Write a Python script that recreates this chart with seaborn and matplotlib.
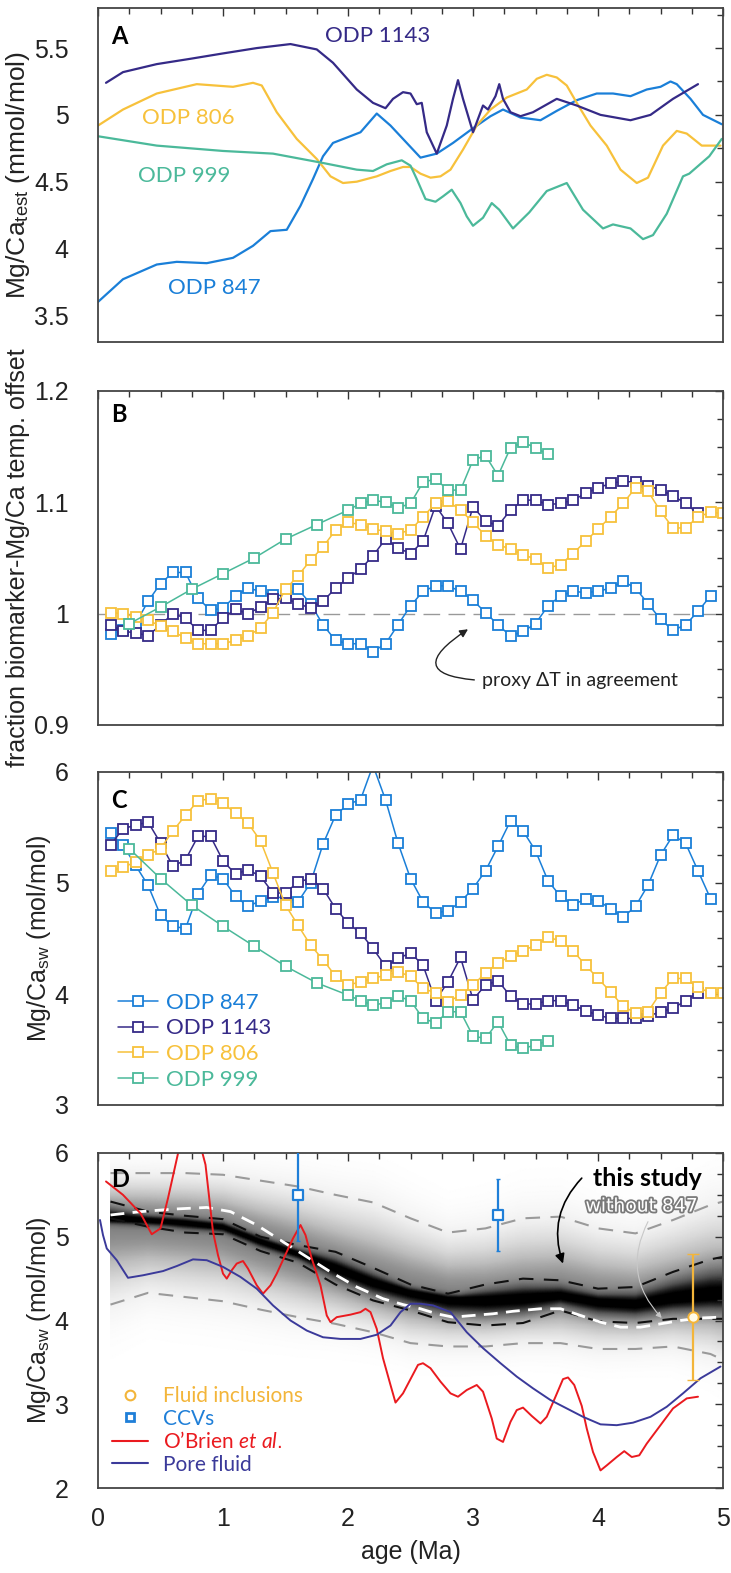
import numpy as np
import pandas as pd
import matplotlib
matplotlib.use("Agg")
import matplotlib.pyplot as plt
import seaborn as sns
from matplotlib.lines import Line2D
from matplotlib.ticker import MultipleLocator, FuncFormatter
import matplotlib.patheffects as pe

sns.set_theme(style="white")
plt.rcParams['font.family'] = ['Liberation Sans', 'DejaVu Sans']
plt.rcParams['mathtext.fontset'] = 'custom'
plt.rcParams['mathtext.rm'] = 'Liberation Sans'
plt.rcParams['mathtext.it'] = 'Lato:italic'

# ---------------- colours ----------------
C847, C1143, C806, C999 = '#1a7fd8', '#352a87', '#f7c13b', '#4bb99a'
CRED, CPORE, CCCV, CFI = '#ea1a1f', '#3b3a9a', '#1f7fd8', '#f3b53a'

# ---------------- Panel A: Mg/Ca test ----------------
a1143_age = [0.064, 0.2, 0.47, 0.74, 1.0, 1.27, 1.54, 1.75, 1.88, 2.07, 2.2, 2.3, 2.36, 2.44, 2.5, 2.55,
             2.59, 2.63, 2.71, 2.79, 2.84, 2.88, 2.92, 3.0, 3.08, 3.12, 3.18, 3.21, 3.24, 3.3, 3.38, 3.48,
             3.67, 3.83, 4.02, 4.26, 4.42, 4.6, 4.8]
a1143_val = [5.24, 5.32, 5.38, 5.42, 5.46, 5.5, 5.53, 5.49, 5.39, 5.19, 5.09, 5.05, 5.12, 5.17, 5.16, 5.08,
             5.09, 4.87, 4.71, 4.92, 5.12, 5.26, 5.12, 4.87, 5.07, 5.04, 5.14, 5.23, 5.12, 5.02, 4.99, 5.02,
             5.12, 5.07, 5.0, 4.96, 5.0, 5.12, 5.23]
a806_age = [0.0, 0.2, 0.47, 0.79, 1.08, 1.24, 1.31, 1.43, 1.59, 1.75, 1.86, 1.96, 2.07, 2.23, 2.34, 2.44,
            2.5, 2.58, 2.66, 2.74, 2.82, 2.92, 3.03, 3.14, 3.27, 3.43, 3.51, 3.59, 3.67, 3.75, 3.83, 3.94,
            4.07, 4.18, 4.31, 4.4, 4.52, 4.63, 4.71, 4.83, 4.98]
a806_val = [4.92, 5.04, 5.16, 5.23, 5.21, 5.24, 5.22, 5.02, 4.82, 4.67, 4.54, 4.49, 4.5, 4.54, 4.58, 4.61,
            4.61, 4.56, 4.53, 4.54, 4.59, 4.74, 4.92, 5.04, 5.13, 5.19, 5.27, 5.3, 5.28, 5.22, 5.09, 4.92,
            4.77, 4.59, 4.49, 4.53, 4.77, 4.88, 4.86, 4.77, 4.77]
a999_age = [0.0, 0.47, 1.0, 1.4, 1.8, 2.07, 2.2, 2.31, 2.43, 2.5, 2.55, 2.62, 2.7, 2.76, 2.83, 2.9, 2.95,
            3.0, 3.08, 3.15, 3.21, 3.32, 3.45, 3.59, 3.75, 3.88, 4.04, 4.12, 4.26, 4.36, 4.44, 4.55, 4.68,
            4.73, 4.89, 4.99]
a999_val = [4.84, 4.77, 4.73, 4.71, 4.64, 4.59, 4.58, 4.63, 4.66, 4.62, 4.52, 4.37, 4.35, 4.39, 4.44, 4.34,
            4.24, 4.17, 4.23, 4.34, 4.29, 4.15, 4.27, 4.43, 4.49, 4.29, 4.15, 4.18, 4.15, 4.07, 4.1, 4.26,
            4.54, 4.56, 4.69, 4.82]
a847_age = [0.0, 0.2, 0.47, 0.63, 0.87, 1.08, 1.24, 1.38, 1.51, 1.62, 1.72, 1.8, 1.88, 1.99, 2.1, 2.23,
            2.34, 2.44, 2.5, 2.58, 2.71, 2.84, 3.0, 3.14, 3.24, 3.38, 3.54, 3.67, 3.83, 3.99, 4.12, 4.26,
            4.39, 4.5, 4.58, 4.63, 4.74, 4.84, 4.99]
a847_val = [3.6, 3.77, 3.88, 3.9, 3.89, 3.93, 4.02, 4.13, 4.14, 4.32, 4.52, 4.69, 4.79, 4.83, 4.87, 5.01,
            4.92, 4.82, 4.76, 4.68, 4.71, 4.79, 4.9, 4.99, 5.04, 4.98, 4.96, 5.03, 5.11, 5.16, 5.16, 5.14,
            5.19, 5.21, 5.25, 5.23, 5.12, 5.0, 4.93]

# ---------------- Panels B and C: regular 0.1 Ma sampling ----------------
age_49 = np.round(np.arange(1, 50) * 0.1, 1)   # 0.1 ... 4.9
age_48 = np.round(np.arange(1, 49) * 0.1, 1)   # 0.1 ... 4.8
age_50 = np.round(np.arange(1, 51) * 0.1, 1)   # 0.1 ... 5.0
age_999 = [0.25, 0.5, 0.75, 1.0, 1.25, 1.5, 1.75, 2.0, 2.1, 2.2, 2.3, 2.4, 2.5, 2.6, 2.7, 2.8, 2.9, 3.0,
           3.1, 3.2, 3.3, 3.4, 3.5, 3.6]

b847 = [0.982, 0.985, 0.991, 1.011, 1.027, 1.037, 1.037, 1.014, 1.003, 1.005,
        1.016, 1.023, 1.020, 1.017, 1.016, 1.022, 1.009, 0.990, 0.976, 0.973,
        0.973, 0.966, 0.973, 0.990, 1.007, 1.020, 1.025, 1.025, 1.020, 1.012,
        1.001, 0.990, 0.980, 0.984, 0.991, 1.007, 1.016, 1.020, 1.019, 1.020,
        1.023, 1.029, 1.023, 1.009, 0.995, 0.985, 0.990, 1.002, 1.016]
b1143 = [0.990, 0.984, 0.983, 0.980, 0.990, 1.000, 0.996, 0.985, 0.985, 0.996,
         1.004, 1.000, 1.006, 1.013, 1.014, 1.009, 1.005, 1.011, 1.023, 1.032,
         1.040, 1.052, 1.067, 1.059, 1.054, 1.065, 1.097, 1.081, 1.058, 1.096,
         1.083, 1.079, 1.093, 1.102, 1.102, 1.098, 1.099, 1.102, 1.108, 1.113,
         1.117, 1.119, 1.118, 1.115, 1.111, 1.106, 1.099, 1.090]
b806 = [1.001, 1.000, 0.997, 0.994, 0.989, 0.984, 0.978, 0.973, 0.973, 0.973,
        0.976, 0.980, 0.987, 1.001, 1.022, 1.034, 1.048, 1.060, 1.075, 1.082,
        1.080, 1.076, 1.074, 1.072, 1.075, 1.087, 1.099, 1.101, 1.093, 1.082,
        1.070, 1.062, 1.058, 1.053, 1.049, 1.041, 1.044, 1.054, 1.065, 1.076,
        1.087, 1.099, 1.113, 1.110, 1.092, 1.077, 1.077, 1.087, 1.091, 1.090]
b999 = [0.991, 1.006, 1.022, 1.036, 1.050, 1.067, 1.080, 1.093, 1.099, 1.102, 1.100, 1.095,
        1.099, 1.118, 1.121, 1.111, 1.111, 1.138, 1.142, 1.124, 1.149, 1.154, 1.149, 1.143]

c847 = [5.45, 5.34, 5.16, 4.98, 4.71, 4.61, 4.59, 4.90, 5.07, 5.04,
        4.88, 4.79, 4.84, 4.87, 4.87, 4.83, 5.00, 5.35, 5.61, 5.71,
        5.75, 6.06, 5.75, 5.36, 5.04, 4.83, 4.73, 4.75, 4.83, 4.95,
        5.11, 5.33, 5.56, 5.47, 5.29, 5.02, 4.88, 4.80, 4.86, 4.84,
        4.77, 4.69, 4.79, 4.98, 5.25, 5.43, 5.36, 5.11, 4.86]
c1143 = [5.34, 5.49, 5.52, 5.55, 5.36, 5.15, 5.21, 5.42, 5.42, 5.20,
         5.08, 5.12, 5.06, 4.91, 4.91, 5.01, 5.04, 4.95, 4.77, 4.64,
         4.55, 4.41, 4.25, 4.32, 4.37, 4.26, 3.94, 4.11, 4.33, 3.95,
         4.08, 4.12, 3.98, 3.91, 3.91, 3.94, 3.94, 3.90, 3.85, 3.81,
         3.78, 3.78, 3.78, 3.80, 3.84, 3.87, 3.94, 4.01]
c806 = [5.11, 5.14, 5.19, 5.25, 5.31, 5.47, 5.61, 5.74, 5.76, 5.72,
        5.63, 5.54, 5.38, 5.09, 4.80, 4.62, 4.44, 4.31, 4.16, 4.08,
        4.11, 4.14, 4.17, 4.20, 4.16, 4.05, 4.01, 3.93, 3.99, 4.08,
        4.19, 4.28, 4.34, 4.39, 4.44, 4.51, 4.48, 4.39, 4.26, 4.14,
        4.02, 3.89, 3.83, 3.84, 4.01, 4.14, 4.14, 4.06, 4.01, 4.01]
c999 = [5.31, 5.04, 4.80, 4.61, 4.43, 4.25, 4.10, 3.99, 3.94, 3.90, 3.92, 3.98,
        3.94, 3.78, 3.74, 3.84, 3.84, 3.62, 3.60, 3.75, 3.54, 3.51, 3.54, 3.58]

# ---------------- Panel D ----------------
obr_age = [0.064, 0.2, 0.34, 0.43, 0.5, 0.56, 0.62, 0.73, 0.86, 0.92, 0.96, 1.0, 1.03, 1.07, 1.11, 1.16,
           1.2, 1.27, 1.32, 1.38, 1.43, 1.51, 1.56, 1.62, 1.66, 1.71, 1.78, 1.83, 1.86, 1.91, 2.02, 2.1,
           2.14, 2.18, 2.23, 2.28, 2.34, 2.38, 2.44, 2.5, 2.56, 2.6, 2.66, 2.74, 2.82, 2.88, 2.95, 3.03,
           3.08, 3.15, 3.19, 3.24, 3.3, 3.35, 3.4, 3.47, 3.54, 3.59, 3.66, 3.72, 3.76, 3.81, 3.87, 3.91,
           3.96, 4.02, 4.07, 4.15, 4.21, 4.27, 4.33, 4.39, 4.5, 4.6, 4.71, 4.8]
obr_val = [5.66, 5.5, 5.28, 5.03, 5.1, 5.46, 5.86, 6.6, 5.86, 5.06, 4.78, 4.56, 4.5, 4.6, 4.68, 4.71,
           4.62, 4.42, 4.32, 4.42, 4.56, 4.82, 4.98, 5.14, 5.02, 4.74, 4.42, 4.06, 3.98, 4.04, 4.07, 4.1,
           4.14, 4.1, 3.9, 3.55, 3.23, 3.02, 3.13, 3.3, 3.47, 3.49, 3.43, 3.27, 3.13, 3.09, 3.17, 3.23,
           3.15, 2.83, 2.59, 2.55, 2.79, 2.93, 2.96, 2.86, 2.77, 2.85, 3.09, 3.3, 3.32, 3.23, 2.98, 2.71,
           2.43, 2.21, 2.27, 2.37, 2.44, 2.37, 2.39, 2.53, 2.75, 2.95, 3.07, 3.09]
pf_age = [0.016, 0.04, 0.07, 0.15, 0.24, 0.36, 0.52, 0.63, 0.76, 0.87, 1.0, 1.14, 1.27, 1.4, 1.54, 1.67,
          1.8, 1.94, 2.1, 2.23, 2.34, 2.42, 2.5, 2.58, 2.68, 2.82, 2.95, 3.08, 3.22, 3.35, 3.48, 3.62,
          3.75, 3.88, 4.02, 4.15, 4.28, 4.42, 4.55, 4.68, 4.82, 4.98]
pf_val = [5.2, 5.02, 4.86, 4.72, 4.51, 4.54, 4.59, 4.65, 4.73, 4.72, 4.64, 4.52, 4.38, 4.18, 4.0, 3.88,
          3.8, 3.78, 3.78, 3.83, 3.94, 4.1, 4.2, 4.2, 4.18, 4.1, 3.86, 3.67, 3.49, 3.33, 3.19, 3.05,
          2.95, 2.85, 2.76, 2.75, 2.78, 2.85, 2.97, 3.13, 3.31, 3.45]
wo_age = [0.1, 0.34, 0.6, 0.87, 1.06, 1.27, 1.48, 1.67, 1.86, 2.07, 2.28, 2.44, 2.58, 2.71, 2.84, 3.0,
          3.16, 3.32, 3.54, 3.7, 3.86, 4.02, 4.18, 4.34, 4.5, 4.66, 4.82, 4.98]
wo_val = [5.26, 5.3, 5.33, 5.35, 5.3, 5.14, 4.94, 4.76, 4.58, 4.4, 4.26, 4.19, 4.14, 4.08, 4.04, 4.06,
          4.08, 4.11, 4.14, 4.14, 4.06, 3.98, 3.92, 3.92, 3.96, 4.0, 4.03, 4.04]
dens_age = [0.1, 0.4, 0.7, 1.0, 1.3, 1.6, 1.9, 2.2, 2.5, 2.8, 3.1, 3.4, 3.7, 4.0, 4.3, 4.6, 4.9, 5.0]
ts_center = [5.22, 5.2, 5.17, 5.12, 4.95, 4.8, 4.63, 4.46, 4.34, 4.26, 4.25, 4.27, 4.3, 4.23, 4.2, 4.27, 4.31, 4.31]
ts_ub = [5.42, 5.3, 5.25, 5.21, 5.0, 4.9, 4.82, 4.63, 4.43, 4.32, 4.43, 4.5, 4.48, 4.38, 4.4, 4.58, 4.73, 4.76]
ts_lb = [5.22, 5.12, 5.05, 5.03, 4.83, 4.69, 4.43, 4.24, 4.12, 3.98, 3.94, 3.97, 4.12, 3.99, 3.97, 4.02, 4.02, 4.02]
ts_ug = [5.76, 5.76, 5.76, 5.74, 5.67, 5.6, 5.5, 5.41, 5.22, 5.05, 5.1, 5.22, 5.24, 5.1, 5.04, 5.2, 5.38, 5.42]
ts_lg = [4.19, 4.33, 4.28, 4.23, 4.13, 4.04, 3.96, 3.86, 3.73, 3.69, 3.69, 3.73, 3.73, 3.66, 3.66, 3.69, 3.6, 3.53]
ccv_age, ccv_val, ccv_err = [1.6, 3.2], [5.5, 5.26], [0.55, 0.43]
fi_age, fi_val, fi_err = [4.76], [4.04], [0.75]

# ---------------- figure layout ----------------
fig = plt.figure(figsize=(7.31, 15.73), dpi=100)
L, W = 98 / 731, 625 / 731
def ax_at(top_px, bot_px):
    return fig.add_axes([L, 1 - bot_px / 1573, W, (bot_px - top_px) / 1573])
axA = ax_at(8, 342)
axB = ax_at(391, 725)
axC = ax_at(772, 1105)
axD = ax_at(1153, 1488)

ANN = 'Lato'
fmt = FuncFormatter(lambda v, p: f"{v:g}")

# ---- A ----
for ag, vv, col in [(a847_age, a847_val, C847), (a806_age, a806_val, C806),
                    (a999_age, a999_val, C999), (a1143_age, a1143_val, C1143)]:
    sns.lineplot(x=ag, y=vv, ax=axA, color=col, lw=1.6)
for txt, x, y, col in [('ODP 1143', 2.236, 5.545, C1143), ('ODP 806', 0.724, 4.931, C806),
                       ('ODP 999', 0.692, 4.496, C999), ('ODP 847', 0.932, 3.657, C847)]:
    axA.text(x, y, txt, color=col, fontsize=16, family=ANN, ha='center', va='baseline')

# ---- B ----
mk = dict(marker='s', markersize=7, markerfacecolor='white', markeredgewidth=1.3, lw=1.1)
axB.axhline(1.0, color='#999999', lw=1.0, dashes=(12, 6), zorder=1)
for ag, vv, col in [(age_49, b847, C847), (age_48, b1143, C1143), (age_50, b806, C806), (age_999, b999, C999)]:
    sns.lineplot(x=ag, y=vv, ax=axB, color=col, markeredgecolor=col, **mk)
axB.annotate('proxy ΔT in agreement', xy=(2.96, 0.986), xytext=(3.07, 0.940),
             fontsize=14, family=ANN, color='#222222', ha='left', va='center',
             arrowprops=dict(arrowstyle='-|>', color='#222222', lw=1.0, mutation_scale=12, relpos=(0, 0.5),
                             connectionstyle='arc3,rad=-1.5', shrinkA=3, shrinkB=0))

# ---- C ----
for ag, vv, col in [(age_49, c847, C847), (age_48, c1143, C1143), (age_50, c806, C806), (age_999, c999, C999)]:
    sns.lineplot(x=ag, y=vv, ax=axC, color=col, markeredgecolor=col, **mk)
hC = [Line2D([], [], color=c, markeredgecolor=c, **mk) for c in (C847, C1143, C806, C999)]
legC = axC.legend(hC, ['ODP 847', 'ODP 1143', 'ODP 806', 'ODP 999'], loc='lower left',
                  bbox_to_anchor=(0.032, 0.045), frameon=False, handlelength=1.8, handletextpad=0.35,
                  labelspacing=0.26, borderaxespad=0, borderpad=0, prop={'family': ANN, 'size': 16})
for t, c in zip(legC.get_texts(), (C847, C1143, C806, C999)):
    t.set_color(c)

# ---- D ----
xg = np.linspace(dens_age[0], dens_age[-1], 246)
yg = np.linspace(2, 6, 400)
cc = np.interp(xg, dens_age, ts_center)
ub = np.interp(xg, dens_age, ts_ub); lb = np.interp(xg, dens_age, ts_lb)
ug = np.interp(xg, dens_age, ts_ug); lg = np.interp(xg, dens_age, ts_lg)
X, Y = np.meshgrid(xg, yg)
dy = Y - cc
s_in = np.where(dy > 0, np.maximum(ub - cc, 0.1), np.maximum(cc - lb, 0.1))
s_out = np.where(dy > 0, ug - cc, cc - lg)
Z = 0.45 * np.exp(-0.5 * (dy / (0.42 * s_in)) ** 2) + 0.55 * np.exp(-0.5 * (dy / (0.55 * s_out)) ** 2)
axD.pcolormesh(xg, yg, Z, cmap='Greys', vmin=0, vmax=0.95, shading='gouraud', zorder=0, rasterized=True)

def dashed(ax, x, y, col, lw, dsh):
    sns.lineplot(x=x, y=y, ax=ax, color=col, lw=lw)
    ax.lines[-1].set_dashes(dsh)

dashed(axD, dens_age, ts_ug, '#9a9a9a', 1.5, (7, 5))
dashed(axD, dens_age, ts_lg, '#9a9a9a', 1.5, (7, 5))
dashed(axD, dens_age, ts_ub, '#111111', 1.5, (7, 5))
dashed(axD, dens_age, ts_lb, '#111111', 1.5, (7, 5))
dashed(axD, wo_age, wo_val, 'white', 2.0, (5, 3))
sns.lineplot(x=obr_age, y=obr_val, ax=axD, color=CRED, lw=1.4)
sns.lineplot(x=pf_age, y=pf_val, ax=axD, color=CPORE, lw=1.4)
axD.errorbar(ccv_age, ccv_val, yerr=ccv_err, fmt='none', ecolor=CCCV, elinewidth=1.6, capsize=1.5, zorder=5)
sns.scatterplot(x=ccv_age, y=ccv_val, ax=axD, marker='s', s=45, facecolor='white', edgecolor=CCCV,
                linewidth=1.6, zorder=6)
axD.errorbar(fi_age, fi_val, yerr=fi_err, fmt='none', ecolor=CFI, elinewidth=1.6, capsize=4, zorder=5)
sns.scatterplot(x=fi_age, y=fi_val, ax=axD, marker='o', s=55, facecolor='#fffbe8', edgecolor=CFI,
                linewidth=1.4, zorder=6)

axD.text(3.96, 5.60, 'this study', fontsize=18, family=ANN, fontweight='bold', color='black',
         ha='left', va='baseline', zorder=7)
axD.text(3.90, 5.30, 'without 847', fontsize=13.5, family='DejaVu Sans', color='white', ha='left',
         va='baseline', zorder=7, path_effects=[pe.withStroke(linewidth=2.6, foreground='#7a7a7a')])
axD.annotate('', xy=(3.72, 4.68), xytext=(3.87, 5.70),
             arrowprops=dict(arrowstyle='-|>', color='black', lw=1.2, mutation_scale=14,
                             connectionstyle='arc3,rad=0.3', shrinkA=0, shrinkB=0), zorder=7)
axD.annotate('', xy=(4.51, 4.03), xytext=(4.40, 5.18),
             arrowprops=dict(arrowstyle='-|>', color='#c8c8c8', lw=0.8, mutation_scale=8,
                             connectionstyle='arc3,rad=0.35', shrinkA=0, shrinkB=0), zorder=7)

hD = [Line2D([], [], ls='none', marker='o', markerfacecolor='none', markeredgecolor=CFI, ms=7, mew=1.5),
      Line2D([], [], ls='none', marker='s', markerfacecolor='none', markeredgecolor=CCCV, ms=6, mew=2),
      Line2D([], [], color=CRED, lw=1.5), Line2D([], [], color=CPORE, lw=1.5)]
legD = axD.legend(hD, ['Fluid inclusions', 'CCVs', 'O’Brien $\\it{et\\ al.}$', 'Pore fluid'],
                  loc='lower left', bbox_to_anchor=(0.022, 0.04), frameon=False, handlelength=1.75,
                  handletextpad=0.7, labelspacing=0.12, borderaxespad=0, borderpad=0,
                  prop={'family': ANN, 'size': 15})
for t, c in zip(legD.get_texts(), (CFI, CCCV, CRED, CPORE)):
    t.set_color(c)

# ---------------- axes styling ----------------
ylims = {axA: (3.3, 5.8, 0.5, 0.25), axB: (0.9, 1.2, 0.1, 0.025), axC: (3, 6, 1, 0.25), axD: (2, 6, 1, 0.25)}
for ax, (lo, hi, maj, mnr) in ylims.items():
    ax.set_xlim(0, 5)
    ax.set_ylim(lo, hi)
    ax.xaxis.set_major_locator(MultipleLocator(1))
    ax.xaxis.set_minor_locator(MultipleLocator(0.25))
    ax.yaxis.set_major_locator(MultipleLocator(maj))
    ax.yaxis.set_minor_locator(MultipleLocator(mnr))
    ax.xaxis.set_major_formatter(fmt)
    ax.yaxis.set_major_formatter(fmt)
    ax.tick_params(which='both', direction='in', top=True, right=True, color='#333333', width=1.0,
                   labelsize=18, labelcolor='#222222')
    ax.tick_params(axis='y', which='major', pad=21)
    ax.tick_params(axis='x', which='major', pad=14)
    ax.tick_params(which='major', length=6)
    ax.tick_params(which='minor', length=4)
    for s in ax.spines.values():
        s.set_color('#444444'); s.set_linewidth(1.3)
    ax.set_xlabel('')
    if ax is not axD:
        ax.tick_params(labelbottom=False)

axA.set_ylabel('Mg/Ca$_{\\rm test}$ (mmol/mol)', fontsize=19, color='#222222')
axB.set_ylabel('fraction biomarker-Mg/Ca temp. offset', fontsize=18, color='#222222')
axC.set_ylabel('Mg/Ca$_{\\rm sw}$ (mol/mol)', fontsize=18, color='#222222')
axD.set_ylabel('Mg/Ca$_{\\rm sw}$ (mol/mol)', fontsize=18, color='#222222')
axA.yaxis.set_label_coords(-0.106, 0.5)
axB.yaxis.set_label_coords(-0.108, 0.5)
axC.yaxis.set_label_coords(-0.072, 0.5)
axD.yaxis.set_label_coords(-0.072, 0.5)
axD.set_xlabel('age (Ma)', fontsize=18, color='#222222', labelpad=6)

for ax, lab, ytop in [(axA, 'A', 0.95), (axB, 'B', 0.965), (axC, 'C', 0.948), (axD, 'D', 0.955)]:
    ax.text(0.021, ytop, lab, transform=ax.transAxes, fontsize=17, family=ANN, fontweight='bold',
            color='black', ha='left', va='top', zorder=8)

fig.savefig('out.png', dpi=100, facecolor='white')
